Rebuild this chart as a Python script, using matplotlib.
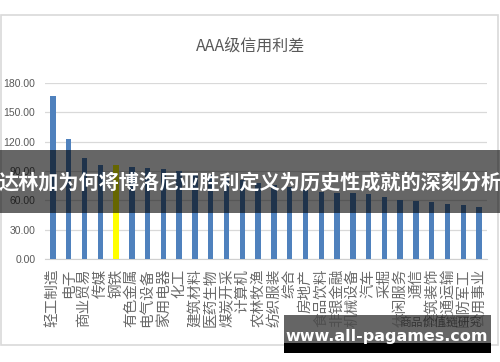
import matplotlib
matplotlib.use("Agg")
import matplotlib.pyplot as plt
from matplotlib.patches import Rectangle

plt.rcParams['font.family'] = ['Noto Sans CJK SC', 'DejaVu Sans']

# AAA credit spread by industry
industries = ['轻工制造', '电子', '商业贸易', '传媒', '钢铁', '有色金属', '电气设备',
              '家用电器', '化工', '建筑材料', '医药生物', '煤炭开采', '计算机', '农林牧渔',
              '纺织服装', '综合', '房地产', '食品饮料', '非银金融', '机械设备', '汽车',
              '采掘', '休闲服务', '通信', '建筑装饰', '交通运输', '国防军工', '公用事业']
spreads = [166.5, 122.5, 103, 96, 96, 94, 93, 92.5, 90.5, 88, 86, 84, 81, 78,
           76, 74, 71, 69, 67.5, 67, 66.5, 63, 60, 59, 58, 56, 55, 53]
highlight = '钢铁'
yticks = [0, 30, 60, 90, 120, 150, 180]

W, H = 500, 362
def fx(px):
    return px / W
def fy(py):
    return (H - py) / H

fig = plt.figure(figsize=(5, 3.62), dpi=100)
fig.patch.set_facecolor('white')

# chart frame
fig.patches.append(Rectangle((fx(1), fy(345)), fx(497), (345 - 15) / H,
                             transform=fig.transFigure, fill=False,
                             edgecolor='#d9d9d9', linewidth=1.2, zorder=0.5))

ax = fig.add_axes([fx(45), fy(259), fx(442), 176 / H])
colors = ['#ffff00' if c == highlight else '#4f81bd' for c in industries]
x = list(range(len(industries)))
ax.bar(x, spreads, width=0.34, color=colors, zorder=3)
ax.set_xlim(-0.5, len(industries) - 0.5)
ax.set_ylim(0, 180)
ax.set_yticks(yticks)
ax.set_yticklabels(['%.2f' % v for v in yticks], color='#595959', fontsize=7.5,
                   family='Liberation Sans')
ax.grid(axis='y', color='#d9d9d9', linewidth=0.9, zorder=0)
ax.tick_params(axis='y', length=0, pad=7)
ax.tick_params(axis='x', length=0, pad=7)
for s in ['top', 'right', 'left']:
    ax.spines[s].set_visible(False)
ax.spines['bottom'].set_color('#d0d0d0')
ax.set_xticks(x)
ax.set_xticklabels(industries, rotation=90, va='top', ha='center',
                   fontsize=10.5, color='#6a6a6a')

fig.text(fx(251), fy(46), 'AAA级信用利差', ha='center', va='center',
         fontsize=11.5, color='#595959')

# overlay banner
fig.patches.append(Rectangle((0, fy(213)), 1, 63 / H, transform=fig.transFigure,
                             facecolor='black', alpha=0.6, edgecolor='none', zorder=2))
fig.text(fx(250), fy(182), '达林加为何将博洛尼亚胜利定义为历史性成就的深刻分析',
         ha='center', va='center', fontsize=14.5, color='white', fontweight='bold', zorder=4)

# watermark
fig.patches.append(Rectangle((fx(284), fy(343)), fx(207), 28 / H, transform=fig.transFigure,
                             facecolor='#4a4a4a', alpha=0.85, edgecolor='none', zorder=2))
fig.patches.append(Rectangle((fx(284), fy(353)), fx(207), 10 / H, transform=fig.transFigure,
                             facecolor='black', edgecolor='none', zorder=2))
fig.text(fx(440), fy(322), '商品价值链研究', ha='center', va='center', fontsize=8.5,
         color='#222222', alpha=0.7, zorder=4)
fig.text(fx(387), fy(336), 'www.all-pagames.com', ha='center', va='center',
         fontsize=11.5, color='white', fontweight='bold', family='DejaVu Sans', zorder=4)

fig.savefig('out.png', dpi=100)
